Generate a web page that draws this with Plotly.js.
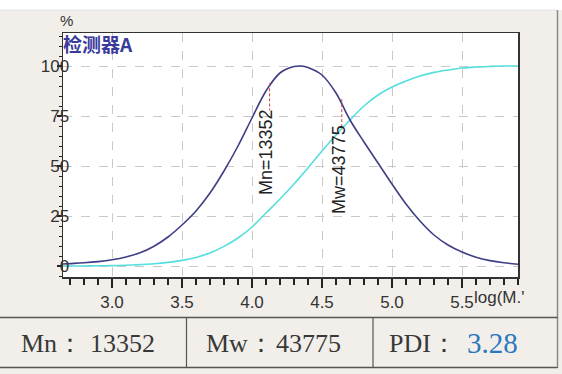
<!DOCTYPE html>
<html><head><meta charset="utf-8">
<script src="https://cdn.plot.ly/plotly-3.0.1.min.js"></script>
<style>html,body{margin:0;padding:0;background:#f2efea;} #chart{width:562px;height:374px;}</style>
</head><body><div id="chart"></div>
<script>
// ---- data ----
const logM = [2.65,2.7,2.8,2.9,3.0,3.1,3.2,3.3,3.4,3.5,3.6,3.7,3.8,3.9,4.0,4.1,4.2,4.3,4.35,4.4,4.5,4.6,4.7,4.8,4.9,5.0,5.1,5.2,5.3,5.4,5.5,5.6,5.7,5.8,5.9];
const detectorSignal = [1.0,1.2,1.6,2.2,3.1,4.5,6.6,9.9,14.5,20.5,27.5,36.5,47.5,60,74,87.5,96.5,99.7,100,99.3,95.5,86.5,73,62,51.5,41,31,22.5,15.5,10.5,7,4.4,2.7,1.6,0.9];
const cumulative = [0,0,0,0.1,0.2,0.4,0.7,1.1,1.8,2.8,4.3,6.5,9.8,14,19.5,26.5,33.5,41,45,49,57.5,65.5,73,80,85.5,89.5,92.5,95,96.8,98,99,99.5,99.8,100,100];
const xTickVals = [3.0,3.5,4.0,4.5,5.0,5.5];
const xTickText = ['3.0','3.5','4.0','4.5','5.0','5.5'];
const yTickVals = [0,25,50,75,100];
const yTickText = ['0','25','50','75','100'];
const Mn = 13352, Mw = 43775, PDI = '3.28';
const detectorName = '检测器A';
const xTitle = "log(M.'";
const yTitle = '%';

// ---- helpers ----
function interp(xs, ys, x){
  for (let i=0;i<xs.length-1;i++){
    if (x>=xs[i] && x<=xs[i+1]){ const t=(x-xs[i])/(xs[i+1]-xs[i]); return ys[i]+t*(ys[i+1]-ys[i]); }
  }
  return ys[ys.length-1];
}
const W=562,H=374, L=63, R=44, T=33, B=97;
const pw=W-L-R, ph=H-T-B;
const px=x=>(x-L)/pw, py=y=>(H-B-y)/ph;

const lmn=Math.log10(Mn), lmw=Math.log10(Mw);
const mnTop=interp(logM,detectorSignal,lmn)+1.5, mwTop=interp(logM,detectorSignal,lmw)+2.5;
const dashLen=13.5;

const traces=[
  {x:logM,y:cumulative,type:'scatter',mode:'lines',line:{color:'#55dede',width:1.6,shape:'spline'},hoverinfo:'skip'},
  {x:logM,y:detectorSignal,type:'scatter',mode:'lines',line:{color:'#3e3e86',width:1.6,shape:'spline'},hoverinfo:'skip'},
  {x:[lmn,lmn],y:[mnTop,mnTop-dashLen],type:'scatter',mode:'lines',line:{color:'#d84040',width:1,dash:'3px,2px'},hoverinfo:'skip'},
  {x:[lmw,lmw],y:[mwTop,mwTop-dashLen],type:'scatter',mode:'lines',line:{color:'#d84040',width:1,dash:'3px,2px'},hoverinfo:'skip'}
];

const tickFont={family:'Arial, "Liberation Sans", sans-serif',size:17,color:'#333'};
const tableFont={family:'"Liberation Serif","DejaVu Serif",serif',size:26,color:'#383838'};

const lineC='#555';
const shapes=[
  {type:'rect',xref:'paper',yref:'paper',x0:px(0),x1:px(W),y0:py(10),y1:py(0),fillcolor:'#ffffff',line:{width:0},layer:'below'},
  {type:'line',xref:'paper',yref:'paper',x0:px(0),x1:px(557),y0:py(10),y1:py(10),line:{color:'#e4e4e4',width:1}},
  {type:'line',xref:'paper',yref:'paper',x0:px(557.5),x1:px(557.5),y0:py(10),y1:py(368),line:{color:'#8a8a8a',width:1.5}},
  {type:'line',xref:'paper',yref:'paper',x0:px(0),x1:px(557.5),y0:py(317.5),y1:py(317.5),line:{color:lineC,width:1.5}},
  {type:'line',xref:'paper',yref:'paper',x0:px(0),x1:px(557.5),y0:py(367.5),y1:py(367.5),line:{color:lineC,width:1.5}},
  {type:'line',xref:'paper',yref:'paper',x0:px(186.5),x1:px(186.5),y0:py(317.5),y1:py(367.5),line:{color:lineC,width:1.2}},
  {type:'line',xref:'paper',yref:'paper',x0:px(373),x1:px(373),y0:py(317.5),y1:py(367.5),line:{color:lineC,width:1.2}}
];

const labFont={family:'Arial, "Liberation Sans", sans-serif',size:18,color:'#222'};
const ty=py(343);
const annotations=[
  {text:'Mn='+Mn,x:lmn,y:mnTop-dashLen,xref:'x',yref:'y',xanchor:'center',yanchor:'top',xshift:-3,yshift:3,textangle:-90,showarrow:false,font:labFont},
  {text:'Mw='+Mw,x:lmw,y:mwTop-dashLen,xref:'x',yref:'y',xanchor:'center',yanchor:'top',xshift:-3.5,yshift:3,textangle:-90,showarrow:false,font:labFont},
  {text:yTitle,x:px(66),y:py(21),xref:'paper',yref:'paper',xanchor:'center',yanchor:'middle',showarrow:false,font:{family:'Arial, "Liberation Sans", sans-serif',size:15,color:'#333'}},
  {text:detectorName,x:px(61),y:py(43.5),xref:'paper',yref:'paper',xanchor:'left',yanchor:'middle',showarrow:false,font:{family:'"Noto Sans CJK SC", sans-serif',size:19,color:'#3b3b9c',weight:'bold'}},
  {text:xTitle,x:px(472),y:py(297),xref:'paper',yref:'paper',xanchor:'left',yanchor:'middle',showarrow:false,font:tickFont},
  {text:'Mn：',x:px(19),y:ty,xref:'paper',yref:'paper',xanchor:'left',yanchor:'middle',showarrow:false,font:tableFont},
  {text:String(Mn),x:px(88),y:ty,xref:'paper',yref:'paper',xanchor:'left',yanchor:'middle',showarrow:false,font:tableFont},
  {text:'Mw：',x:px(204),y:ty,xref:'paper',yref:'paper',xanchor:'left',yanchor:'middle',showarrow:false,font:tableFont},
  {text:String(Mw),x:px(274),y:ty,xref:'paper',yref:'paper',xanchor:'left',yanchor:'middle',showarrow:false,font:tableFont},
  {text:'PDI：',x:px(387),y:ty,xref:'paper',yref:'paper',xanchor:'left',yanchor:'middle',showarrow:false,font:tableFont},
  {text:PDI,x:px(465),y:ty,xref:'paper',yref:'paper',xanchor:'left',yanchor:'middle',showarrow:false,font:Object.assign({},tableFont,{color:'#2b78bd',size:29})}
];

const layout={
  width:W,height:H,margin:{l:L,r:R,t:T,b:B,pad:0},
  paper_bgcolor:'#f2efea',plot_bgcolor:'#ffffff',showlegend:false,
  xaxis:{range:[2.65,5.9],tickmode:'array',tickvals:xTickVals,ticktext:xTickText,ticks:'outside',ticklen:9,tickwidth:1.3,tickcolor:'#222',
    minor:{dtick:0.1,tick0:3.0,ticks:'outside',ticklen:6,tickwidth:1.2,tickcolor:'#222',showgrid:false},
    showgrid:true,gridcolor:'#c9c9c9',griddash:'dash',gridwidth:1,zeroline:false,
    showline:true,linecolor:'#333',linewidth:1.5,mirror:true,tickfont:tickFont},
  yaxis:{range:[-5.5,116.5],tickmode:'array',tickvals:yTickVals,ticktext:yTickText,ticks:'outside',ticklen:5,tickwidth:1.2,tickcolor:'#222',
    minor:{dtick:5,tick0:0,ticks:'outside',ticklen:3,tickwidth:1,tickcolor:'#222',showgrid:false},
    showgrid:true,gridcolor:'#c9c9c9',griddash:'dash',gridwidth:1,zeroline:false,
    showline:true,linecolor:'#333',linewidth:1.5,mirror:true,tickfont:tickFont,ticklabelstandoff:-16},
  shapes:shapes,annotations:annotations
};
Plotly.newPlot('chart',traces,layout,{staticPlot:true,displayModeBar:false});
</script></body></html>
